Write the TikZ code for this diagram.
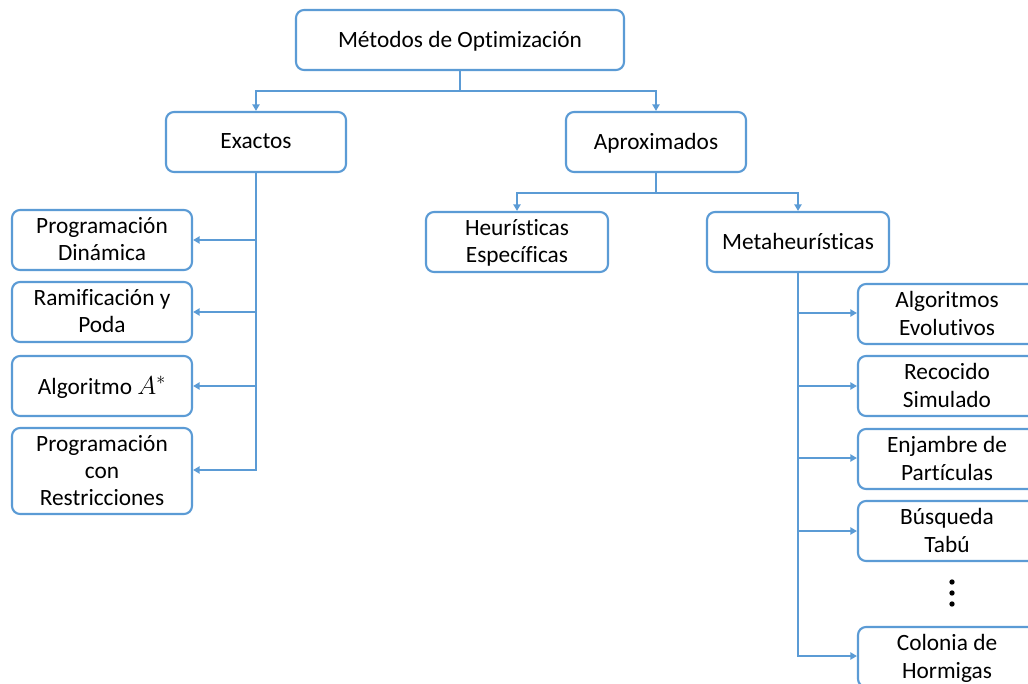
\documentclass[tikz,border=0pt]{standalone}
\usepackage{fontspec}
\setmainfont{Carlito}[Ligatures=NoCommon]
\usetikzlibrary{arrows.meta}
\definecolor{linkblue}{RGB}{91,155,213}
\begin{document}
\begin{tikzpicture}[x=0.75pt,y=-0.75pt,
  box/.style={draw=linkblue,line width=1.6pt,rounded corners=6pt,fill=white,
    align=center,inner sep=0pt,font=\fontsize{17.5}{20.4}\selectfont,
    text depth=1pt,minimum width=135pt,minimum height=45pt},
  link/.style={draw=linkblue,line width=1.5pt,
    -{Triangle[length=5pt,width=5.5pt]}}]
\useasboundingbox (0,0) rectangle (1028,684);
\clip (0,0) rectangle (1028,684);

% root and first level
\node[box,minimum width=246pt] (root) at (460,40) {Métodos de Optimización};
\node[box] (exa) at (256,142) {Exactos};
\node[box] (apr) at (656,142) {Aproximados};

% exact methods
\node[box] (pd) at (102,240) {Programación\\Dinámica};
\node[box] (rp) at (102,312) {Ramificación y\\Poda};
\node[box] (as) at (102,386) {Algoritmo \scalebox{1.12}{$A^{*}$}};
\node[box,minimum height=64.5pt] (pr) at (102,471) {Programación\\con\\Restricciones};

% approximate methods
\node[box,minimum width=136.5pt] (heu) at (517,242) {Heurísticas\\Específicas};
\node[box,minimum width=136.5pt] (meta) at (798,242) {Metaheurísticas};

% metaheuristics
\node[box,minimum width=133.5pt] (ae) at (947,314) {Algoritmos\\Evolutivos};
\node[box,minimum width=133.5pt] (rs) at (947,386) {Recocido\\Simulado};
\node[box,minimum width=133.5pt] (ep) at (947,459) {Enjambre de\\Partículas};
\node[box,minimum width=133.5pt] (bt) at (947,531) {Búsqueda\\Tabú};
\node[box,minimum width=133.5pt] (ch) at (947,657) {Colonia de\\Hormigas};

% vertical ellipsis
\node[inner sep=0pt,minimum size=30pt] (dots) at (952,593) {};
\fill (952,582) circle (2pt) (952,593) circle (2pt) (952,604) circle (2pt);

% connectors
\draw[link] (root.south) -- ++(0,20) -| (exa.north);
\draw[link] (root.south) -- ++(0,20) -| (apr.north);
\draw[link] (apr.south) -- ++(0,20) -| (heu.north);
\draw[link] (apr.south) -- ++(0,20) -| (meta.north);

\foreach \t/\yy in {pd/240,rp/312,as/386,pr/470}
  \draw[link] (exa.south) |- (\t.east |- 0,\yy);
\foreach \t/\yy in {ae/313,rs/386,ep/458,bt/531,ch/656}
  \draw[link] (meta.south) |- (\t.west |- 0,\yy);
\end{tikzpicture}
\end{document}
